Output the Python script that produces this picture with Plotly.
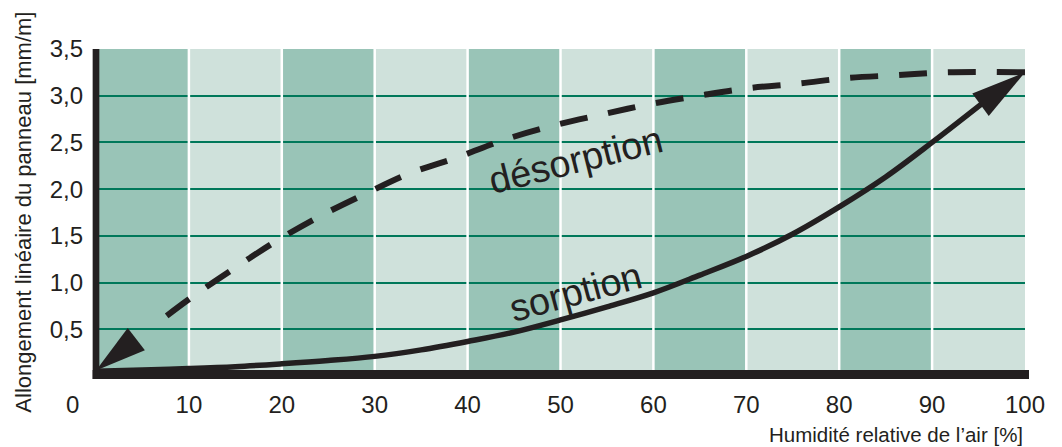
import math
import plotly.graph_objects as go

# ---- data ----
sorp_x = [0, 5, 10, 15, 20, 25, 30, 35, 40, 45, 50, 55, 60, 65, 70, 75, 80, 85, 90, 95.3, 100]
sorp_y = [0.05, 0.065, 0.08, 0.10, 0.13, 0.165, 0.21, 0.28, 0.37, 0.47, 0.60, 0.74, 0.89, 1.08,
          1.28, 1.52, 1.81, 2.13, 2.50, 2.91, 3.25]

desorp_x = [100, 91.6, 86.3, 80.9, 75.6, 70.2, 64.9, 59.6, 54.5, 49.2, 44.0, 38.9, 33.8, 29.0,
            24.1, 19.5, 15.0, 10.4, 6.1, 0]
desorp_y = [3.25, 3.25, 3.22, 3.19, 3.13, 3.08, 3.00, 2.91, 2.80, 2.68, 2.53, 2.34, 2.17, 1.95,
            1.71, 1.45, 1.16, 0.85, 0.53, 0.06]

x_ticks = [0, 10, 20, 30, 40, 50, 60, 70, 80, 90, 100]
x_ticktext = ["0" + "\u00a0" * 7] + [str(v) for v in x_ticks[1:]]
y_ticks = [0.5, 1.0, 1.5, 2.0, 2.5, 3.0, 3.5]
y_ticktext = ["0,5", "1,0", "1,5", "2,0", "2,5", "3,0", "3,5"]
dark_band_starts = [0, 20, 40, 60, 80]
band_width = 10

x_title = "Humidité relative de l’air [%]"
y_title = "Allongement linéaire du panneau [mm/m]"
label_sorp = "sorption"
label_desorp = "désorption"

# ---- style / layout ----
DARK = "#99c4b7"
LIGHT = "#cfe1db"
GRID = "#00785a"
INK = "#231f20"
FONT = "Liberation Sans"

FIG_W, FIG_H = 1054, 439          # page body adds an 8px margin
M_L, M_R, M_T, M_B = 88, 37, 41, 71
X_RANGE = [0, 100]
Y_RANGE = [0, 3.5]
PX_X = (FIG_W - M_L - M_R) / (X_RANGE[1] - X_RANGE[0])
PX_Y = (FIG_H - M_T - M_B) / (Y_RANGE[1] - Y_RANGE[0])


def arrow_triangle(x_tip, y_tip, x_from, y_from, length_px, width_px):
    dx = (x_tip - x_from) * PX_X
    dy = (y_tip - y_from) * PX_Y
    n = math.hypot(dx, dy)
    ux, uy = dx / n, dy / n
    bx, by = -ux * length_px, -uy * length_px
    qx, qy = -uy * width_px / 2, ux * width_px / 2
    xs = [x_tip, x_tip + (bx + qx) / PX_X, x_tip + (bx - qx) / PX_X, x_tip]
    ys = [y_tip, y_tip + (by + qy) / PX_Y, y_tip + (by - qy) / PX_Y, y_tip]
    return xs, ys


fig = go.Figure()

fig.add_trace(go.Scatter(
    x=sorp_x[:-1], y=sorp_y[:-1], mode="lines",
    line=dict(color=INK, width=5.5, shape="spline"),
    hoverinfo="skip", showlegend=False,
))
ax_, ay_ = arrow_triangle(sorp_x[-1], sorp_y[-1], sorp_x[-2], sorp_y[-2], 55, 28)
fig.add_trace(go.Scatter(x=ax_, y=ay_, mode="lines", fill="toself", fillcolor=INK,
                         line=dict(width=0, color=INK), hoverinfo="skip", showlegend=False))

fig.add_trace(go.Scatter(
    x=desorp_x[:-1], y=desorp_y[:-1], mode="lines",
    line=dict(color=INK, width=6, shape="spline", dash="28px,21px"),
    hoverinfo="skip", showlegend=False,
))
dx_, dy_ = arrow_triangle(desorp_x[-1], desorp_y[-1], desorp_x[-2], desorp_y[-2], 51, 28)
fig.add_trace(go.Scatter(x=dx_, y=dy_, mode="lines", fill="toself", fillcolor=INK,
                         line=dict(width=0, color=INK), hoverinfo="skip", showlegend=False))

shapes = []
for s in dark_band_starts:
    shapes.append(dict(type="rect", xref="x", yref="y", x0=s, x1=s + band_width,
                       y0=Y_RANGE[0], y1=Y_RANGE[1], fillcolor=DARK, line=dict(width=0),
                       layer="below"))
for v in x_ticks[1:-1]:
    shapes.append(dict(type="line", xref="x", yref="y", x0=v, x1=v, y0=Y_RANGE[0], y1=Y_RANGE[1],
                       line=dict(color="white", width=2.5), layer="between"))
# heavy axis bars
shapes.append(dict(type="rect", xref="paper", yref="paper", x0=-0.0036, x1=1.0043,
                   y0=-0.0092, y1=0.0183, fillcolor=INK, line=dict(width=0), layer="above"))
shapes.append(dict(type="rect", xref="paper", yref="paper", x0=-0.0036, x1=0.0036,
                   y0=-0.0092, y1=1.0, fillcolor=INK, line=dict(width=0), layer="above"))

annotations = [
    dict(text=label_desorp, x=51.6, y=2.31, xref="x", yref="y", showarrow=False,
         textangle=-14, font=dict(family=FONT, size=38, color=INK)),
    dict(text=label_sorp, x=51.6, y=0.90, xref="x", yref="y", showarrow=False,
         textangle=-15, font=dict(family=FONT, size=38, color=INK)),
    dict(text=x_title, x=1.0, y=-0.1774, xref="paper", yref="paper", xanchor="right",
         yanchor="middle", showarrow=False, font=dict(family=FONT, size=20.5, color=INK)),
    dict(text=y_title, x=-0.0775, y=0.4995, xref="paper", yref="paper", xanchor="center",
         yanchor="middle", showarrow=False, textangle=-90,
         font=dict(family=FONT, size=22, color=INK)),
]

fig.update_layout(
    width=FIG_W, height=FIG_H,
    margin=dict(l=M_L, r=M_R, t=M_T, b=M_B, pad=0),
    paper_bgcolor="white", plot_bgcolor=LIGHT,
    shapes=shapes, annotations=annotations,
    font=dict(family=FONT, color=INK),
    xaxis=dict(range=X_RANGE, tickvals=x_ticks, ticktext=x_ticktext, showgrid=False,
               zeroline=False, showline=False, ticks="", ticklabelstandoff=12,
               tickfont=dict(family=FONT, size=24, color=INK), fixedrange=True),
    yaxis=dict(range=Y_RANGE, tickvals=y_ticks, ticktext=y_ticktext, showgrid=True,
               gridcolor=GRID, gridwidth=2, zeroline=False, showline=False, ticks="",
               ticklabelstandoff=12, tickfont=dict(family=FONT, size=24, color=INK),
               fixedrange=True),
)

fig.write_html("out.html")
